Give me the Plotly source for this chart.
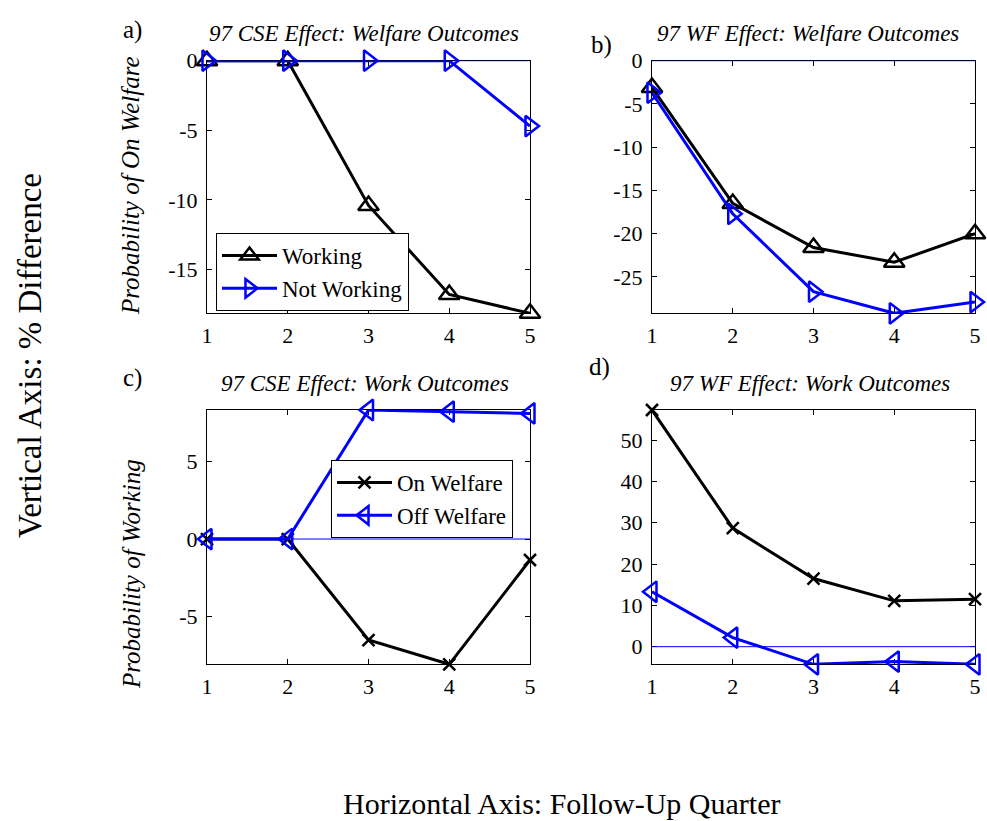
import plotly.graph_objects as go

# Follow-up quarters
quarters = [1, 2, 3, 4, 5]

# a) 97 CSE effect on welfare outcomes
cse_welf_working = [0.0, 0.0, -10.4, -16.8, -18.15]
cse_welf_notworking = [0.0, 0.0, 0.0, 0.0, -4.7]

# b) 97 WF effect on welfare outcomes
wf_welf_working = [-3.1, -16.5, -21.6, -23.3, -20.0]
wf_welf_notworking = [-3.7, -17.7, -26.7, -29.2, -27.9]

# c) 97 CSE effect on work outcomes
cse_work_onwelf = [0.0, 0.0, -6.5, -8.06, -1.35]
cse_work_offwelf = [0.0, 0.0, 8.3, 8.19, 8.08]

# d) 97 WF effect on work outcomes
wf_work_onwelf = [57.3, 28.7, 16.5, 11.1, 11.5]
wf_work_offwelf = [13.3, 2.2, -4.26, -3.6, -4.26]

zero_line = [0, 0, 0, 0, 0]

titles = [
    "97 CSE Effect: Welfare Outcomes",
    "97 WF Effect: Welfare Outcomes",
    "97 CSE Effect: Work Outcomes",
    "97 WF Effect: Work Outcomes",
]
panel_tags = ["a)", "b)", "c)", "d)"]

W, H = 987, 821
BLACK = "#000000"
BLUE = "#0000FF"
SERIF = "Liberation Serif, Times New Roman, serif"

# plot-area boxes in pixels: (left, right, top, bottom)
boxes = [
    (207, 530, 60.7, 313.3),
    (652, 975, 60.7, 313.3),
    (207, 530, 410, 664.3),
    (652, 975, 410, 664.3),
]

fig = go.Figure()


def ax_names(i):
    n = "" if i == 0 else str(i + 1)
    return "x" + n, "y" + n, "xaxis" + n, "yaxis" + n


def add_series(i, y, name, color, symbol, size, legend=None, show=True):
    xr, yr, _, _ = ax_names(i)
    fig.add_trace(go.Scatter(
        x=quarters, y=y, name=name, mode="lines+markers",
        xaxis=xr, yaxis=yr, cliponaxis=False,
        line=dict(color=color, width=3),
        marker=dict(symbol=symbol, size=size, color=color,
                    line=dict(color=color, width=2.5)),
        showlegend=show, legend=legend,
    ))


def add_zero(i):
    xr, yr, _, _ = ax_names(i)
    fig.add_trace(go.Scatter(
        x=quarters, y=zero_line, mode="lines", xaxis=xr, yaxis=yr,
        line=dict(color=BLUE, width=1), showlegend=False, hoverinfo="skip",
        cliponaxis=False,
    ))


# panel a
add_series(0, cse_welf_working, "Working", BLACK, "triangle-up-open", 18, "legend")
add_series(0, cse_welf_notworking, "Not Working", BLUE, "triangle-right-open", 18, "legend")
add_zero(0)
# panel b
add_series(1, wf_welf_working, "Working", BLACK, "triangle-up-open", 18, show=False)
add_series(1, wf_welf_notworking, "Not Working", BLUE, "triangle-right-open", 18, show=False)
add_zero(1)
# panel c
add_zero(2)
add_series(2, cse_work_onwelf, "On Welfare", BLACK, "x-thin", 12, "legend2")
add_series(2, cse_work_offwelf, "Off Welfare", BLUE, "triangle-left-open", 18, "legend2")
# panel d
add_series(3, wf_work_onwelf, "On Welfare", BLACK, "x-thin", 12, show=False)
add_series(3, wf_work_offwelf, "Off Welfare", BLUE, "triangle-left-open", 18, show=False)
add_zero(3)

yranges = [
    [min(cse_welf_working), 0],
    [min(wf_welf_notworking), 0],
    [min(cse_work_onwelf), max(cse_work_offwelf)],
    [min(wf_work_offwelf), max(wf_work_onwelf)],
]
ytickvals = [
    [-15, -10, -5, 0],
    [-25, -20, -15, -10, -5, 0],
    [-5, 0, 5],
    [0, 10, 20, 30, 40, 50],
]

layout = {}
for i, (l, r, t, b) in enumerate(boxes):
    xr, yr, xk, yk = ax_names(i)
    common = dict(
        showline=True, linecolor=BLACK, linewidth=1, mirror="ticks",
        ticks="inside", ticklen=5, tickcolor=BLACK, tickwidth=1,
        showgrid=False, zeroline=False, layer="below traces",
        tickfont=dict(family=SERIF, size=22, color=BLACK),
        automargin=False,
    )
    layout[xk] = dict(
        common, domain=[l / W, r / W], anchor=yr, range=[1, 5],
        tickvals=quarters, ticktext=[str(q) for q in quarters],
        ticklabelstandoff=2,
    )
    layout[yk] = dict(
        common, domain=[1 - b / H, 1 - t / H], anchor=xr, range=yranges[i],
        tickvals=ytickvals[i], ticktext=[str(v) for v in ytickvals[i]],
        ticklabelstandoff=4,
    )

annotations = []
title_pos = [(364, 33), (808, 33), (365, 383), (810, 383)]
for (cx, cy), txt in zip(title_pos, titles):
    annotations.append(dict(
        x=cx / W, y=1 - cy / H, xref="paper", yref="paper", text="<i>" + txt + "</i>",
        showarrow=False, xanchor="center", yanchor="middle",
        font=dict(family=SERIF, size=23, color=BLACK),
    ))

tag_pos = [(132, 30), (601, 45), (132, 378), (599, 367)]
for (cx, cy), txt in zip(tag_pos, panel_tags):
    annotations.append(dict(
        x=cx / W, y=1 - cy / H, xref="paper", yref="paper", text=txt,
        showarrow=False, xanchor="center", yanchor="middle",
        font=dict(family=SERIF, size=25, color=BLACK),
    ))

# y-axis titles of the left panels
for (cx, cy), txt in [((131, 186), "Probability of On Welfare"),
                      ((131, 574), "Probability of Working")]:
    annotations.append(dict(
        x=cx / W, y=1 - cy / H, xref="paper", yref="paper", text="<i>" + txt + "</i>",
        showarrow=False, xanchor="center", yanchor="middle", textangle=-90,
        font=dict(family=SERIF, size=25, color=BLACK),
    ))

# overall axis labels
annotations.append(dict(
    x=30 / W, y=1 - 356 / H, xref="paper", yref="paper",
    text="Vertical Axis: % Difference", showarrow=False, textangle=-90,
    xanchor="center", yanchor="middle",
    font=dict(family=SERIF, size=33, color=BLACK),
))
annotations.append(dict(
    x=561 / W, y=1 - 803 / H, xref="paper", yref="paper",
    text="Horizontal Axis: Follow-Up Quarter", showarrow=False,
    xanchor="center", yanchor="middle",
    font=dict(family=SERIF, size=30, color=BLACK),
))

legend_style = dict(
    bgcolor="white", bordercolor=BLACK, borderwidth=1,
    font=dict(family=SERIF, size=23, color=BLACK),
    xanchor="left", yanchor="top", itemsizing="trace",
    itemwidth=55, tracegroupgap=0,
)

fig.update_layout(
    width=W, height=H,
    margin=dict(l=0, r=0, t=0, b=0, pad=0, autoexpand=False),
    paper_bgcolor="white", plot_bgcolor="white",
    annotations=annotations,
    legend=dict(legend_style, x=216 / W, y=1 - 233 / H),
    legend2=dict(legend_style, x=331 / W, y=1 - 460 / H),
    **layout,
)

fig.write_html("out.html")
